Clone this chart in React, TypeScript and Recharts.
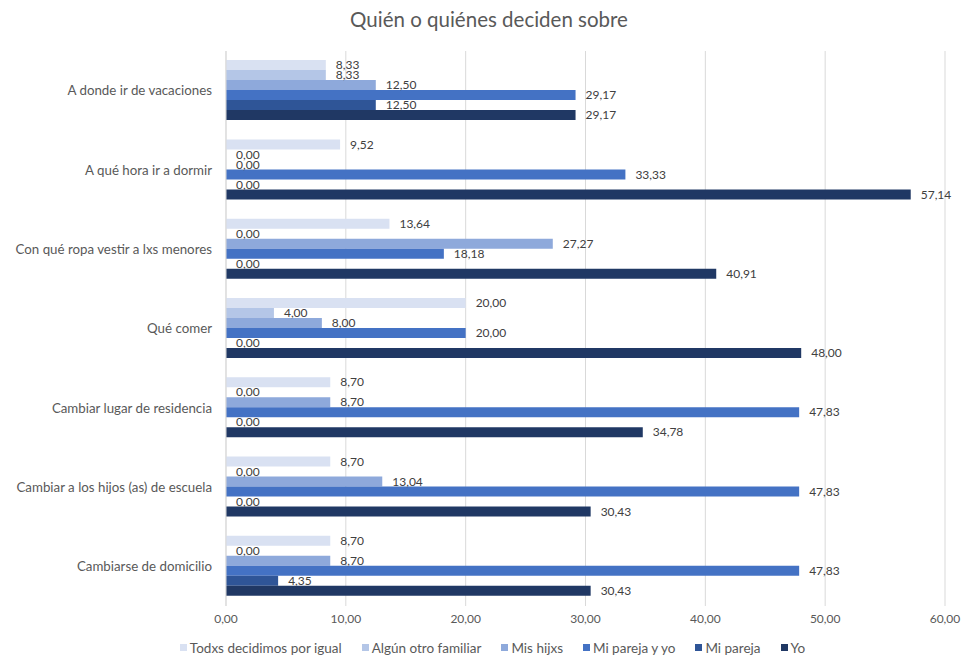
import React from 'react'
import { BarChart, Bar, XAxis, YAxis, CartesianGrid, Legend, LabelList } from 'recharts'

const categories = [
  'A donde ir de vacaciones',
  'A qué hora ir a dormir',
  'Con qué ropa vestir  a lxs menores',
  'Qué comer',
  'Cambiar lugar de residencia',
  'Cambiar a los hijos (as) de escuela',
  'Cambiarse de domicilio',
]

const todxs = [8.33, 9.52, 13.64, 20.0, 8.7, 8.7, 8.7]
const otroFamiliar = [8.33, 0, 0, 4.0, 0, 0, 0]
const misHijxs = [12.5, 0, 27.27, 8.0, 8.7, 13.04, 8.7]
const miParejaYYo = [29.17, 33.33, 18.18, 20.0, 47.83, 47.83, 47.83]
const miPareja = [12.5, 0, 0, 0, 0, 0, 4.35]
const yo = [29.17, 57.14, 40.91, 48.0, 34.78, 30.43, 30.43]

const xTicks = [0, 10, 20, 30, 40, 50, 60]

const series = [
  { key: 'todxs', name: 'Todxs decidimos por igual', color: '#D9E1F2', values: todxs },
  { key: 'otro', name: 'Algún otro familiar', color: '#B4C6E7', values: otroFamiliar },
  { key: 'hijxs', name: 'Mis hijxs', color: '#8EA9DB', values: misHijxs },
  { key: 'parejaYo', name: 'Mi pareja y yo', color: '#4472C4', values: miParejaYYo },
  { key: 'pareja', name: 'Mi pareja', color: '#2F5597', values: miPareja },
  { key: 'yo', name: 'Yo', color: '#203864', values: yo },
]

const data = categories.map((name, i) => {
  const row: Record<string, string | number> = { name }
  series.forEach((s) => {
    row[s.key] = s.values[i]
  })
  return row
})

const FONT = 'Lato, "Noto Sans", sans-serif'
const fmt = (v: number) => Number(v).toFixed(2).replace('.', ',')

// value label drawn just past the bar end, also for zero-length bars
const ValueLabel = (props: any) => {
  const { x, y, width, height, value } = props
  if (value == null) return null
  return (
    <text
      x={Number(x) + Number(width) + 10}
      y={Number(y) + Number(height) / 2}
      dy="0.35em"
      textAnchor="start"
      fill="#404040"
      fontSize={12}
      fontFamily={FONT}
    >
      {fmt(value)}
    </text>
  )
}

const LegendContent = () => (
  <div
    style={{
      height: 30,
      paddingTop: 13,
      paddingLeft: 40,
      boxSizing: 'border-box',
      display: 'flex',
      justifyContent: 'center',
      gap: 20,
      fontFamily: FONT,
      fontSize: 13.5,
      color: '#595959',
      lineHeight: '16px',
    }}
  >
    {series.map((s) => (
      <span key={s.key} style={{ display: 'inline-flex', alignItems: 'center' }}>
        <span style={{ width: 7, height: 7, background: s.color, marginRight: 3, display: 'inline-block' }} />
        {s.name}
      </span>
    ))}
  </div>
)

export default function App() {
  return (
    <div style={{ position: 'absolute', left: 0, top: 0, width: 964, height: 656, background: '#fff' }}>
      <div
        style={{
          position: 'absolute',
          top: 7,
          left: 0,
          width: 978,
          textAlign: 'center',
          fontFamily: FONT,
          fontSize: 20.5,
          color: '#595959',
        }}
      >
        Quién o quiénes deciden sobre
      </div>
      <BarChart
        width={964}
        height={656}
        data={data}
        layout="vertical"
        margin={{ top: 51, right: 19, left: 0, bottom: 0 }}
        barGap={0}
        barCategoryGap="11.5%"
      >
        <CartesianGrid horizontal={false} stroke="#D9D9D9" />
        <XAxis
          type="number"
          domain={[0, 60]}
          ticks={xTicks}
          tickFormatter={fmt}
          axisLine={false}
          tickLine={false}
          height={20}
          tick={{ fill: '#595959', fontSize: 12, fontFamily: FONT }}
        />
        <YAxis
          type="category"
          dataKey="name"
          width={226}
          tickLine={false}
          axisLine={{ stroke: '#D9D9D9' }}
          tickMargin={8}
          interval={0}
          tick={{ fill: '#595959', fontSize: 13.3, fontFamily: FONT, style: { whiteSpace: 'pre' } }}
        />
        <Legend verticalAlign="bottom" content={<LegendContent />} />
        {series.map((s) => (
          <Bar
            key={s.key}
            dataKey={s.key}
            name={s.name}
            fill={s.color}
            minPointSize={0.01}
            isAnimationActive={false}
          >
            <LabelList dataKey={s.key} content={<ValueLabel />} />
          </Bar>
        ))}
      </BarChart>
    </div>
  )
}
